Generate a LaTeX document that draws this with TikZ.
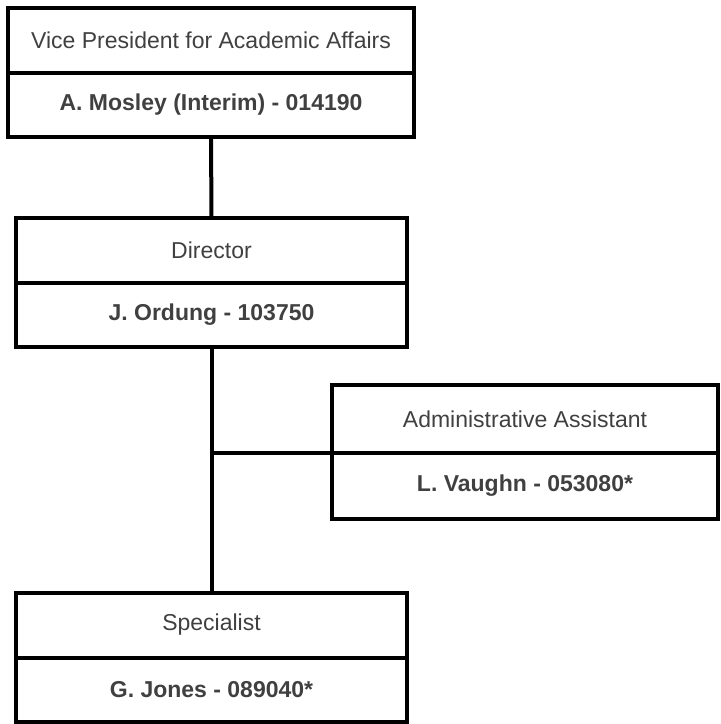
\documentclass[tikz,border=0pt]{standalone}
\usepackage{fontspec}
\setmainfont{Liberation Sans}
\usetikzlibrary{positioning}
\definecolor{TextGray}{RGB}{64,64,64}
\begin{document}
\begin{tikzpicture}[x=1pt,y=-1pt,line width=4pt,
  every node/.style={draw,line width=4pt,inner sep=0pt,outer sep=0pt,
    align=center,text=TextGray,font=\fontsize{23}{27}\selectfont},
  posbox/.style={minimum height=65pt},
  personbox/.style={minimum height=64pt,font=\fontsize{23}{27}\selectfont\bfseries}]
\useasboundingbox (0,0) rectangle (721,724);
\node[posbox,minimum width=406pt] (vpT) at (211,40) {Vice President for Academic Affairs};
\node[personbox,minimum width=406pt,below=0pt of vpT] (vpN) {A. Mosley (Interim) - 014190};
\node[posbox,minimum width=391pt] (dirT) at (211.5,250) {Director};
\node[personbox,minimum width=391pt,below=0pt of dirT] (dirN) {J. Ordung - 103750};
\node[posbox,minimum width=386pt,minimum height=68pt] (asstT) at (525,419) {Administrative Assistant};
\node[personbox,minimum width=386pt,minimum height=66pt,below=0pt of asstT] (asstN) {L. Vaughn - 053080*};
\node[posbox,minimum width=391pt] (specT) at (211.5,625) {Specialist};
\node[personbox,minimum width=391pt,below=0pt of specT] (specN) {G. Jones - 089040*};
\draw (vpN.south) -- (dirT.north);
\draw (dirN.south) -- (specT.north);
\draw (dirN.south |- asstT.south west) -- (asstT.south west);
\end{tikzpicture}
\end{document}
